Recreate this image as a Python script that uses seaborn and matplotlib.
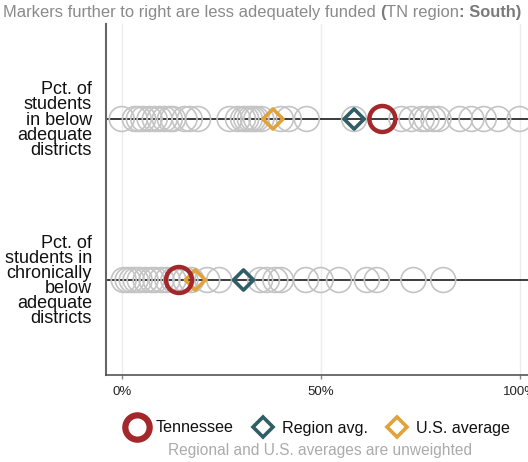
import numpy as np
import pandas as pd
import matplotlib
matplotlib.use("Agg")
import matplotlib.pyplot as plt
from matplotlib.lines import Line2D
import seaborn as sns

# ---------------- data ----------------
measures = ["Pct. of\nstudents\nin below\nadequate\ndistricts",
            "Pct. of\nstudents in\nchronically\nbelow\nadequate\ndistricts"]

states_below = [0, 3.3, 4.3, 5.4, 7.0, 8.3, 9.5, 10.8, 12.1, 12.9, 15.8, 17.1, 19.2,
                27.1, 29.2, 30.5, 31.3, 32.2, 33.0, 33.8, 35.1,
                40.0, 42.0, 46.5, 58.4,
                70.3, 72.8, 75.4, 76.6, 78.3, 79.6, 85.0, 87.9, 91.0, 94.6, 100.0]
states_chronic = [0.5, 1.5, 2.5, 3.5, 4.5, 6.0, 7.5, 8.5, 10.0, 11.5, 13.0, 14.5, 16.0, 17.5,
                  21.5, 24.5, 34.8, 36.5, 38.6, 40.0, 46.3, 50.0, 54.6, 61.6, 64.1,
                  73.3, 80.8]

tn_values = [65.5, 14.4]
region_values = [58.4, 30.6]
us_values = [38.0, 18.5]

xticks = [0, 50, 100]
xtick_labels = ["0%", "50%", "100%"]
legend_labels = ["Tennessee", "Region avg.", "U.S. average"]
title_parts = [("Markers further to right are less adequately funded ", "normal"),
               ("(", "bold"), ("TN region", "normal"), (": South)", "bold")]
footnote = "Regional and U.S. averages are unweighted"

# ---------------- style ----------------
RED = "#a3282b"
TEAL = "#2f5e66"
ORANGE = "#e2a23a"
GRAY = "#c4c4c4"

sns.set_style("white")
plt.rcParams['font.family'] = ['Liberation Sans', 'DejaVu Sans']

fig = plt.figure(figsize=(5.28, 4.62), dpi=100)
ax = fig.add_axes([106 / 528, 1 - 375 / 462, 1 - 106 / 528, (375 - 24) / 462])

states_df = pd.DataFrame({
    "measure": [measures[0]] * len(states_below) + [measures[1]] * len(states_chronic),
    "value": states_below + states_chronic,
})
states_df["row"] = pd.Categorical(states_df["measure"], categories=measures).codes

summary_df = pd.DataFrame({"measure": measures, "tn": tn_values,
                           "region": region_values, "us": us_values})
summary_df["row"] = pd.Categorical(summary_df["measure"], categories=measures).codes

# row reference lines
for r in range(len(measures)):
    ax.axhline(r, color="#1a1a1a", lw=1.2, zorder=1)

sns.scatterplot(data=states_df, x="value", y="row", ax=ax, marker="o", s=320,
                facecolor="none", edgecolor=GRAY, linewidth=1.2, zorder=3, legend=False)
sns.scatterplot(data=summary_df, x="us", y="row", ax=ax, marker="D", s=105,
                facecolor="none", edgecolor=ORANGE, linewidth=2.6, zorder=4, legend=False)
sns.scatterplot(data=summary_df, x="region", y="row", ax=ax, marker="D", s=105,
                facecolor="none", edgecolor=TEAL, linewidth=2.6, zorder=5, legend=False)
sns.scatterplot(data=summary_df, x="tn", y="row", ax=ax, marker="o", s=350,
                facecolor="none", edgecolor=RED, linewidth=3.2, zorder=6, legend=False)

ax.set_xlim(-3.95, 102.1)
ax.set_ylim(1.59, -0.59)
ax.set_xlabel("")
ax.set_ylabel("")
ax.set_xticks(xticks)
ax.set_xticklabels(xtick_labels)
ax.set_yticks(range(len(measures)))
ax.set_yticklabels(measures, fontsize=13, linespacing=0.85, color="#111111")
ax.tick_params(axis="y", length=0, pad=10)
ax.tick_params(axis="x", length=3, width=1, color="#888888", labelsize=9.5,
               pad=5, labelcolor="#222222", bottom=True)
ax.xaxis.grid(True, color="#ececec", lw=1)
ax.yaxis.grid(False)
for s in ["top", "right"]:
    ax.spines[s].set_visible(False)
ax.spines["left"].set_color("#666666")
ax.spines["left"].set_linewidth(1.5)
ax.spines["bottom"].set_color("#555555")
ax.spines["bottom"].set_linewidth(1.2)

# title (mixed weight)
prev = fig.text(3 / 528, 1 - 12 / 462, title_parts[0][0], fontsize=11.9, color="#8a8a8a",
                fontweight=title_parts[0][1], va="center", ha="left")
for txt, w in title_parts[1:]:
    prev = ax.annotate(txt, xy=(1, 0), xycoords=prev, va="bottom", ha="left",
                       fontsize=11.9, color="#7a7a7a" if w == "bold" else "#8a8a8a",
                       fontweight=w, annotation_clip=False)

# legend
handles = [
    Line2D([], [], ls="none", marker="o", ms=17.5, mfc="none", mec=RED, mew=4.5),
    Line2D([], [], ls="none", marker="D", ms=10.5, mfc="none", mec=TEAL, mew=2.6),
    Line2D([], [], ls="none", marker="D", ms=10.5, mfc="none", mec=ORANGE, mew=2.6),
]
fig.legend(handles, legend_labels, loc="center", bbox_to_anchor=(317 / 528, 1 - 428 / 462),
           ncol=3, frameon=False, fontsize=11.6, handletextpad=0.4, columnspacing=1.0,
           handlelength=1.6, labelcolor="#111111")
fig.text(320 / 528, 1 - 451 / 462, footnote, fontsize=11.2, color="#ababab",
         ha="center", va="center")

fig.savefig("out.png", dpi=100)
